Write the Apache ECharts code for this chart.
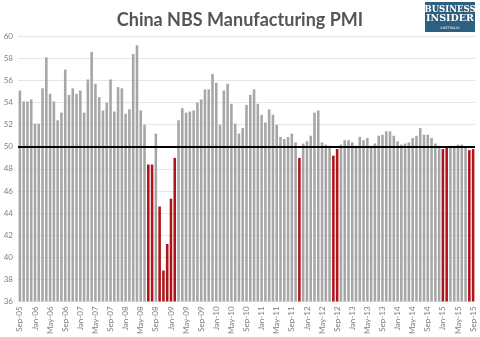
<!DOCTYPE html>
<html>
<head>
<meta charset="utf-8">
<script src="https://cdn.jsdelivr.net/npm/echarts@6/dist/echarts.min.js"></script>
<style>
html,body{margin:0;padding:0;background:#fff;}
#chart{width:480px;height:337px;}
</style>
</head>
<body>
<div id="chart"></div>
<script>
var months = [
 "Sep-05","Oct-05","Nov-05","Dec-05",
 "Jan-06","Feb-06","Mar-06","Apr-06","May-06","Jun-06","Jul-06","Aug-06","Sep-06","Oct-06","Nov-06","Dec-06",
 "Jan-07","Feb-07","Mar-07","Apr-07","May-07","Jun-07","Jul-07","Aug-07","Sep-07","Oct-07","Nov-07","Dec-07",
 "Jan-08","Feb-08","Mar-08","Apr-08","May-08","Jun-08","Jul-08","Aug-08","Sep-08","Oct-08","Nov-08","Dec-08",
 "Jan-09","Feb-09","Mar-09","Apr-09","May-09","Jun-09","Jul-09","Aug-09","Sep-09","Oct-09","Nov-09","Dec-09",
 "Jan-10","Feb-10","Mar-10","Apr-10","May-10","Jun-10","Jul-10","Aug-10","Sep-10","Oct-10","Nov-10","Dec-10",
 "Jan-11","Feb-11","Mar-11","Apr-11","May-11","Jun-11","Jul-11","Aug-11","Sep-11","Oct-11","Nov-11","Dec-11",
 "Jan-12","Feb-12","Mar-12","Apr-12","May-12","Jun-12","Jul-12","Aug-12","Sep-12","Oct-12","Nov-12","Dec-12",
 "Jan-13","Feb-13","Mar-13","Apr-13","May-13","Jun-13","Jul-13","Aug-13","Sep-13","Oct-13","Nov-13","Dec-13",
 "Jan-14","Feb-14","Mar-14","Apr-14","May-14","Jun-14","Jul-14","Aug-14","Sep-14","Oct-14","Nov-14","Dec-14",
 "Jan-15","Feb-15","Mar-15","Apr-15","May-15","Jun-15","Jul-15","Aug-15","Sep-15"
];
var pmi = [
 55.1,54.1,54.1,54.3,
 52.1,52.1,55.3,58.1,54.8,54.1,52.4,53.1,57.0,54.7,55.3,54.8,
 55.1,53.1,56.1,58.6,55.7,54.5,53.3,54.0,56.1,53.2,55.4,55.3,
 53.0,53.4,58.4,59.2,53.3,52.0,48.4,48.4,51.2,44.6,38.8,41.2,
 45.3,49.0,52.4,53.5,53.1,53.2,53.3,54.0,54.3,55.2,55.2,56.6,
 55.8,52.0,55.1,55.7,53.9,52.1,51.2,51.7,53.8,54.7,55.2,53.9,
 52.9,52.2,53.4,52.9,52.0,50.9,50.7,50.9,51.2,50.4,49.0,50.3,
 50.5,51.0,53.1,53.3,50.4,50.2,50.1,49.2,49.8,50.2,50.6,50.6,
 50.4,50.1,50.9,50.6,50.8,50.1,50.3,51.0,51.1,51.4,51.4,51.0,
 50.5,50.2,50.3,50.4,50.8,51.0,51.7,51.1,51.1,50.8,50.3,50.1,
 49.8,49.9,50.1,50.1,50.2,50.2,50.0,49.7,49.8
];
var threshold = 50;
var yTicks = {min: 36, max: 60, step: 2};

var chart = echarts.init(document.getElementById('chart'));
chart.setOption({
  animation: false,
  backgroundColor: '#ffffff',
  title: {
    text: 'China NBS Manufacturing PMI',
    left: 'center',
    top: 6,
    textStyle: {fontFamily: 'Lato', fontSize: 18, fontWeight: 'bold', color: '#555555'}
  },
  grid: {left: 18, right: 5, top: 36.4, bottom: 32, containLabel: false},
  xAxis: {
    type: 'category',
    data: months,
    axisLine: {show: false},
    axisTick: {show: false},
    axisLabel: {
      interval: 3, rotate: 90, fontSize: 8, color: '#7f7f7f',
      fontFamily: 'Lato', margin: 5
    }
  },
  yAxis: {
    type: 'value',
    min: yTicks.min, max: yTicks.max, interval: yTicks.step,
    axisLine: {show: false},
    axisTick: {show: false},
    axisLabel: {fontSize: 8, color: '#7f7f7f', fontFamily: 'Lato', margin: 5},
    splitLine: {lineStyle: {color: '#e6e6e6', width: 1}}
  },
  series: [{
    type: 'bar',
    data: pmi.map(function (v) {
      return {value: v, itemStyle: {color: v < threshold ? '#b0141a' : '#a6a6a6'}};
    }),
    barCategoryGap: '32%',
    markLine: {
      silent: true,
      symbol: 'none',
      label: {show: false},
      lineStyle: {color: '#000000', width: 2, type: 'solid'},
      data: [{yAxis: threshold}]
    }
  }],
  graphic: [
    {type: 'rect', shape: {x: 425, y: 2, width: 50, height: 30}, style: {fill: '#2d5f7e'}},
    {type: 'text', style: {text: 'BUSINESS', x: 450, y: 5, textAlign: 'center', fill: '#ffffff', fontFamily: 'DejaVu Serif', fontSize: 8.5, fontWeight: 'bold'}},
    {type: 'text', style: {text: 'INSIDER', x: 450, y: 14, textAlign: 'center', fill: '#ffffff', fontFamily: 'DejaVu Serif', fontSize: 9.5, fontWeight: 'bold'}},
    {type: 'text', style: {text: 'AUSTRALIA', x: 450, y: 26, textAlign: 'center', fill: '#ffffff', fontFamily: 'DejaVu Sans', fontSize: 3.5}}
  ]
});
</script>
</body>
</html>
